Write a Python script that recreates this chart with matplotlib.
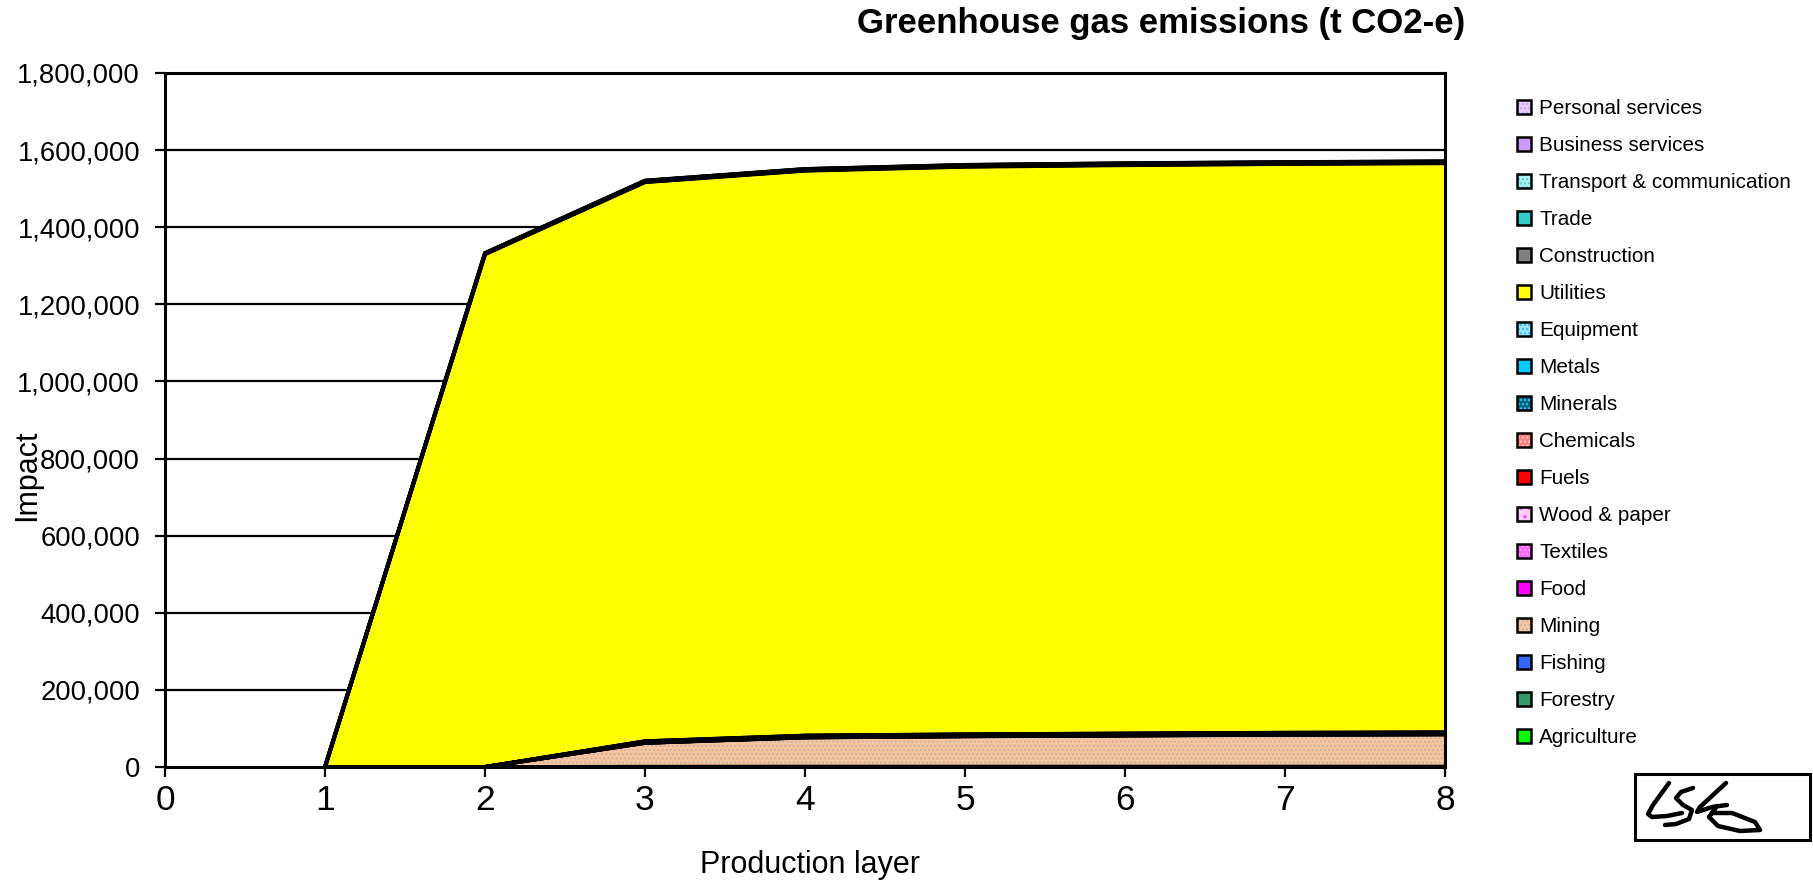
import matplotlib
matplotlib.use("Agg")
import matplotlib.pyplot as plt
import numpy as np
from matplotlib.patches import Patch, Rectangle
from matplotlib.legend_handler import HandlerBase
from matplotlib.lines import Line2D
from matplotlib.ticker import FuncFormatter, MultipleLocator

# ---- data: emissions by production layer (t CO2-e) ----
layers = [1, 2, 3, 4, 5, 6, 7, 8]

agriculture = [0, 0, 300, 400, 400, 400, 400, 400]
forestry = [0, 0, 50, 60, 60, 60, 60, 60]
fishing = [0, 0, 50, 60, 60, 60, 60, 60]
mining = [0, 0, 62000, 76000, 79000, 81000, 83000, 84000]
food = [0, 0, 300, 350, 380, 400, 400, 400]
textiles = [0, 0, 50, 60, 60, 60, 60, 60]
wood_paper = [0, 0, 200, 250, 260, 270, 270, 270]
fuels = [0, 0, 1500, 1600, 1650, 1700, 1700, 1700]
chemicals = [0, 0, 1000, 1100, 1150, 1200, 1200, 1200]
minerals = [0, 0, 700, 800, 850, 850, 850, 850]
metals = [0, 0, 500, 600, 620, 630, 640, 640]
equipment = [0, 0, 200, 250, 260, 270, 270, 270]
utilities = [0, 1330000, 1450000, 1465000, 1472000, 1474000, 1475000, 1476000]
construction = [0, 500, 800, 900, 950, 1000, 1000, 1000]
trade = [0, 300, 400, 450, 480, 500, 500, 500]
transport = [0, 1500, 2000, 2300, 2500, 2500, 2500, 2500]
business = [0, 500, 600, 650, 700, 700, 700, 700]
personal = [0, 200, 200, 200, 300, 300, 300, 300]

# (label, values, face colour, hatch, hatch colour) from bottom of stack to top
series = [
    ("Agriculture", agriculture, "#00ff00", None, None),
    ("Forestry", forestry, "#339966", None, None),
    ("Fishing", fishing, "#3366ff", None, None),
    ("Mining", mining, "#f7c6a0", "....", "#c9b3a6"),
    ("Food", food, "#ff00ff", None, None),
    ("Textiles", textiles, "#ff66ff", "....", "#ffaaff"),
    ("Wood & paper", wood_paper, "#ffccff", "..", "#ff33ff"),
    ("Fuels", fuels, "#ff0000", None, None),
    ("Chemicals", chemicals, "#ff8080", "....", "#ffcccc"),
    ("Minerals", minerals, "#006680", "....", "#33ccff"),
    ("Metals", metals, "#00ccff", None, None),
    ("Equipment", equipment, "#99e6ff", "....", "#33bbee"),
    ("Utilities", utilities, "#ffff00", None, None),
    ("Construction", construction, "#808080", None, None),
    ("Trade", trade, "#33cccc", None, None),
    ("Transport & communication", transport, "#aaf0f0", "....", "#55cccc"),
    ("Business services", business, "#cc99ff", None, None),
    ("Personal services", personal, "#e6ccff", "....", "#c8a8f0"),
]

FONT = ["Liberation Sans", "DejaVu Sans"]

W, H = 1813, 885
fig = plt.figure(figsize=(W / 100, H / 100), dpi=100)
fig.patch.set_facecolor("white")
ax = fig.add_axes([165 / W, 1 - 767 / H, (1445 - 165) / W, (767 - 73) / H])

x = np.array(layers, dtype=float)
base = np.zeros_like(x)
tops = []
for label, vals, face, hatch, hcol in series:
    top = base + np.array(vals, dtype=float)
    ax.fill_between(x, base, top, facecolor=face, edgecolor="none", linewidth=0, zorder=2)
    if hatch:
        ax.fill_between(x, base, top, facecolor="none", edgecolor=hcol, hatch=hatch,
                        linewidth=0, zorder=2.1)
    tops.append(top)
    base = top

# black outline along the top of every band
for top in tops:
    ax.plot(x, top, color="black", linewidth=2.8, solid_joinstyle="miter", zorder=3)

# horizontal gridlines
for yv in range(200000, 1800001, 200000):
    ax.axhline(yv, color="black", linewidth=1.6, zorder=1)

ax.set_xlim(0, 8)
ax.set_ylim(0, 1800000)
ax.xaxis.set_major_locator(MultipleLocator(1))
ax.yaxis.set_major_locator(MultipleLocator(200000))
ax.yaxis.set_major_formatter(FuncFormatter(lambda v, p: f"{int(v):,}"))
ax.tick_params(axis="both", direction="out", length=7.5, width=1.6, colors="black")
ax.tick_params(axis="y", labelsize=19.7, pad=10.5)
ax.tick_params(axis="x", labelsize=25.5, pad=5)
for lbl in ax.get_xticklabels() + ax.get_yticklabels():
    lbl.set_family(FONT)
for sp in ax.spines.values():
    sp.set_linewidth(2.2)
    sp.set_color("black")
ax.spines["bottom"].set_zorder(4)

fig.text(810 / W, 1 - 865 / H, "Production layer", family=FONT, fontsize=22,
         ha="center", va="center")
fig.text(27 / W, 1 - 475 / H, "Impact", family=FONT, fontsize=22,
         ha="center", va="center", rotation=90)

fig.text(1161 / W, 1 - 23 / H, "Greenhouse gas emissions (t CO2-e)", family=FONT,
         fontsize=25, fontweight="bold", ha="center", va="center")


class BoxedSwatch(HandlerBase):
    """Legend key: filled (optionally hatched) square with a black frame."""

    def create_artists(self, legend, orig_handle, xdescent, ydescent, width, height,
                       fontsize, trans):
        face, hatch, hcol = orig_handle.get_gid()
        fill = Rectangle((-xdescent, -ydescent), width, height, facecolor=face,
                         edgecolor=hcol if hatch else "none", hatch=hatch, linewidth=0,
                         transform=trans)
        frame = Rectangle((-xdescent, -ydescent), width, height, facecolor="none",
                          edgecolor="black", linewidth=1.8, transform=trans)
        return [fill, frame]


# legend, listed top of stack first
handles, labels = [], []
for label, vals, face, hatch, hcol in reversed(series):
    h = Patch(facecolor=face)
    h.set_gid((face, hatch, hcol))
    handles.append(h)
    labels.append(label)
fig.legend(handles, labels, loc="upper left", bbox_to_anchor=(1517 / W, 1 - 99 / H),
           frameon=False, prop={"family": FONT, "size": 14.9},
           handler_map={Patch: BoxedSwatch()},
           handlelength=0.68, handleheight=0.68, handletextpad=0.4,
           labelspacing=0.87, borderaxespad=0, borderpad=0)

# signature badge
def fx(px):
    return px / W

def fy(py):
    return 1 - py / H

fig.add_artist(Rectangle((fx(1635), fy(840)), (1810 - 1635) / W, (840 - 774) / H,
                         transform=fig.transFigure, facecolor="white",
                         edgecolor="black", linewidth=2.2))
strokes = [
    [(1669, 783), (1661, 794), (1653, 805), (1648, 814), (1652, 817), (1667, 816), (1682, 813)],
    [(1693, 788), (1681, 792), (1676, 798), (1683, 805), (1692, 810), (1689, 819), (1676, 824),
     (1665, 825)],
    [(1726, 783), (1713, 795), (1700, 807), (1697, 812), (1712, 807), (1727, 805)],
    [(1717, 806), (1709, 817), (1718, 826), (1740, 831), (1760, 830), (1755, 822), (1732, 813),
     (1712, 813)],
]
for s in strokes:
    xs = [fx(p[0]) for p in s]
    ys = [fy(p[1]) for p in s]
    fig.add_artist(Line2D(xs, ys, transform=fig.transFigure, color="black", linewidth=3.2,
                          solid_capstyle="round", solid_joinstyle="round"))

fig.savefig("out.png", dpi=100, facecolor="white")
